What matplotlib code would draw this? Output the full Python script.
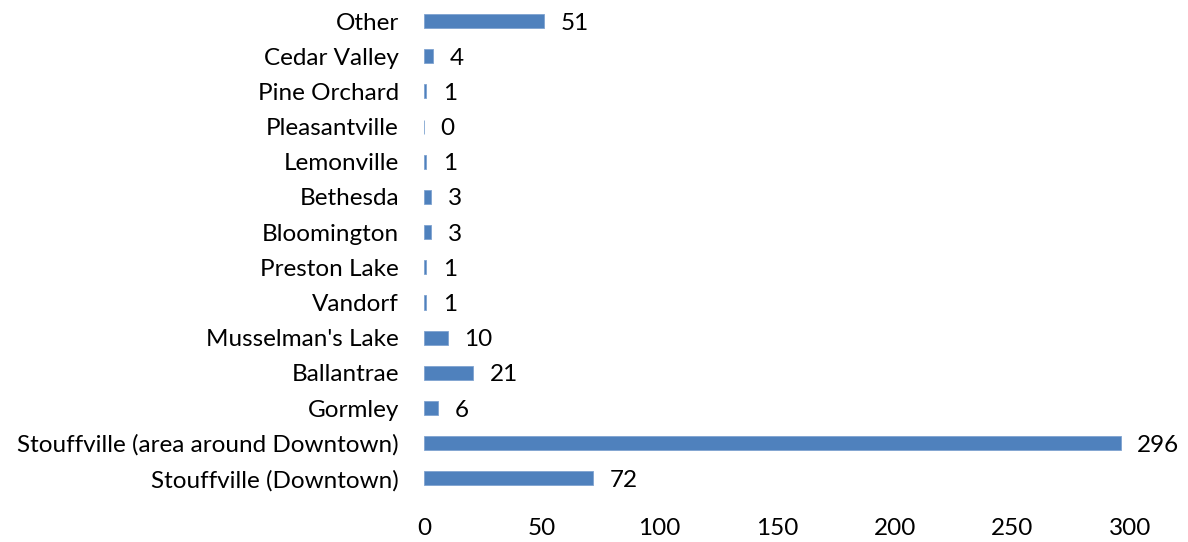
import matplotlib
matplotlib.use('Agg')
import matplotlib.pyplot as plt

# Responses by community, listed bottom to top
communities = ['Stouffville (Downtown)', 'Stouffville (area around Downtown)', 'Gormley',
               'Ballantrae', "Musselman's Lake", 'Vandorf', 'Preston Lake', 'Bloomington',
               'Bethesda', 'Lemonville', 'Pleasantville', 'Pine Orchard', 'Cedar Valley', 'Other']
counts = [72, 296, 6, 21, 10, 1, 1, 3, 3, 1, 0, 1, 4, 51]
x_ticks = [0, 50, 100, 150, 200, 250, 300]

plt.rcParams['font.family'] = ['Lato', 'DejaVu Sans']
fs = 17.5

fig = plt.figure(figsize=(11.88, 5.42), dpi=100)
ax = fig.add_axes([424 / 1188, 1 - 496 / 542, (1130 - 424) / 1188, (496 - 3.5) / 542])

pos = range(len(communities))
ax.barh(pos, counts, height=0.4, color='#4F81BD', edgecolor='#7FA3D0', linewidth=0.6)

for y, v in zip(pos, counts):
    ax.annotate(str(v), (v, y), xytext=(12, 0), textcoords='offset points',
                va='center_baseline', ha='left', fontsize=fs, color='black')

ax.set_xlim(0, 300)
ax.set_ylim(-0.5, len(communities) - 0.5)
ax.set_yticks(list(pos))
ax.set_yticklabels(communities, fontsize=fs, va='center_baseline')
ax.set_xticks(x_ticks)
ax.set_xticklabels([str(t) for t in x_ticks], fontsize=fs)
ax.tick_params(axis='both', length=0)
ax.tick_params(axis='x', pad=16)
ax.tick_params(axis='y', pad=18)
for s in ax.spines.values():
    s.set_visible(False)

fig.savefig('out.png', dpi=100)
